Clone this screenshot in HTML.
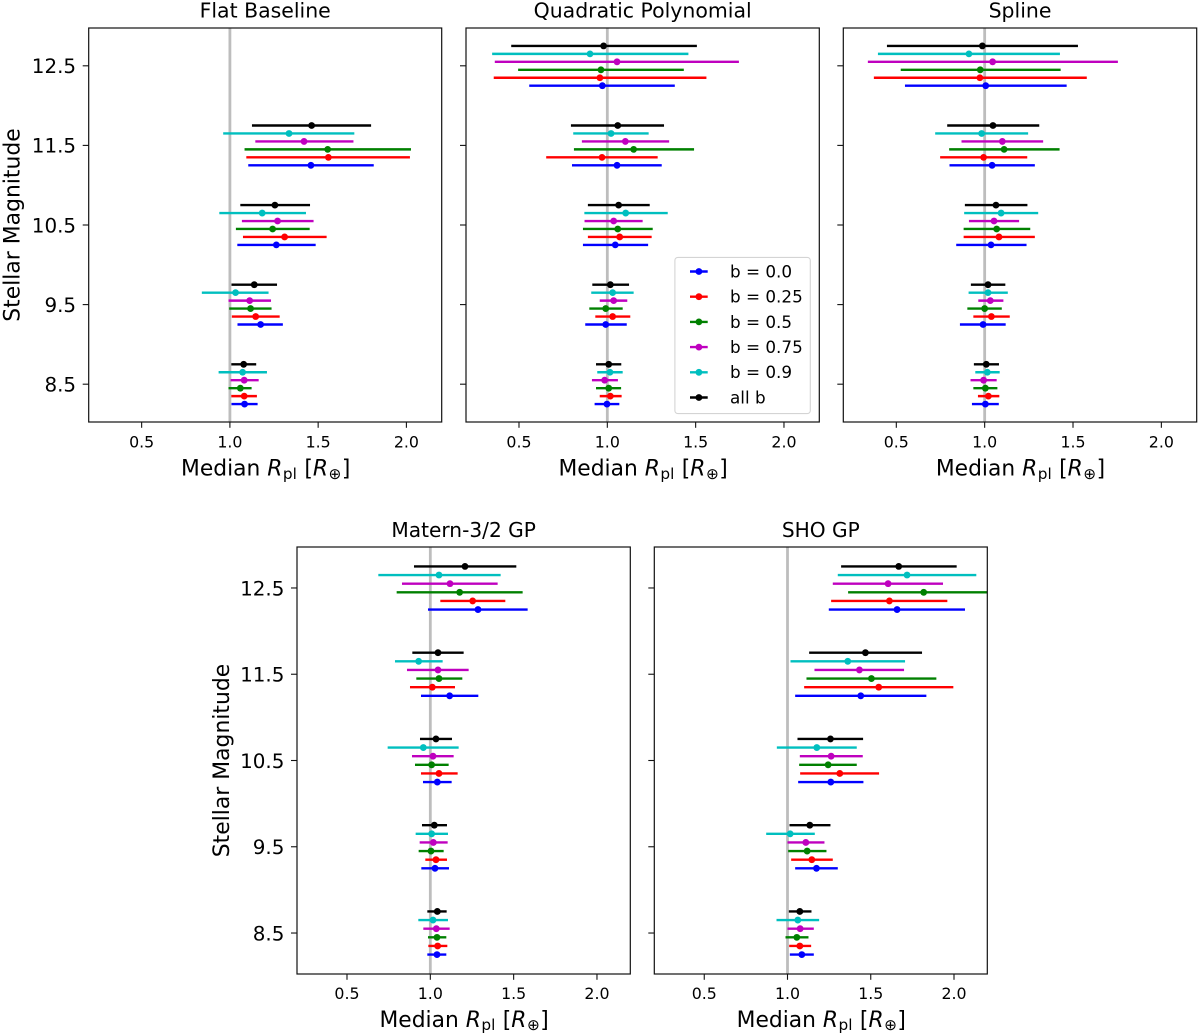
<!DOCTYPE html>
<html lang="en">
<head>
<meta charset="utf-8">
<title>Median planet radius vs stellar magnitude</title>
<style>
html,body{margin:0;padding:0;background:#fff;}
svg{display:block;}
text{font-family:"DejaVu Sans",sans-serif;fill:#000;}
</style>
</head>
<body>
<svg id="figure" xmlns="http://www.w3.org/2000/svg" width="1200" height="1036" viewBox="0 0 1200 1036"></svg>
<script>
// ---- categories, tick labels, legend ----
const magnitudeBins = [8.5, 9.5, 10.5, 11.5, 12.5];
const yTickLabels = ['8.5', '9.5', '10.5', '11.5', '12.5'];
const xTickLabels = ['0.5', '1.0', '1.5', '2.0'];
const seriesLabels = ['b = 0.0', 'b = 0.25', 'b = 0.5', 'b = 0.75', 'b = 0.9', 'all b'];
const seriesKeys = ['b-0', 'b-025', 'b-05', 'b-075', 'b-09', 'all-b'];
const seriesColors = ['#0000ff', '#ff0000', '#008000', '#bf00bf', '#00bfbf', '#000000'];
const seriesMagnitudeOffsets = [-0.25, -0.15, -0.05, 0.05, 0.15, 0.25];
const panelTitles = ['Flat Baseline', 'Quadratic Polynomial', 'Spline', 'Matern-3/2 GP', 'SHO GP'];

// ---- values: one row per series, one column per magnitude bin ----
const flatLow = [
  [1.009, 1.043, 1.042, 1.104, null],
  [1.008, 1.011, 1.074, 1.093, null],
  [0.992, 0.996, 1.034, 1.083, null],
  [1.004, 0.992, 1.068, 1.144, null],
  [0.936, 0.841, 0.94, 0.962, null],
  [1.008, 1.009, 1.059, 1.125, null]
];
const flatMedian = [
  [1.083, 1.174, 1.263, 1.459, null],
  [1.081, 1.146, 1.31, 1.558, null],
  [1.059, 1.117, 1.242, 1.554, null],
  [1.081, 1.112, 1.27, 1.42, null],
  [1.072, 1.032, 1.183, 1.335, null],
  [1.078, 1.138, 1.255, 1.463, null]
];
const flatHigh = [
  [1.157, 1.30, 1.486, 1.815, null],
  [1.153, 1.282, 1.548, 2.02, null],
  [1.123, 1.236, 1.452, 2.026, null],
  [1.163, 1.233, 1.474, 1.70, null],
  [1.21, 1.219, 1.431, 1.705, null],
  [1.149, 1.267, 1.454, 1.80, null]
];
const quadLow = [
  [0.928, 0.875, 0.862, 0.80, 0.558],
  [0.957, 0.932, 0.89, 0.654, 0.357],
  [0.936, 0.898, 0.862, 0.811, 0.495],
  [0.913, 0.957, 0.871, 0.856, 0.363],
  [0.943, 0.909, 0.87, 0.807, 0.348],
  [0.936, 0.915, 0.89, 0.794, 0.456]
];
const quadMedian = [
  [0.998, 0.991, 1.045, 1.055, 0.972],
  [1.017, 1.03, 1.07, 0.97, 0.958],
  [1.008, 0.991, 1.059, 1.149, 0.964],
  [0.985, 1.036, 1.036, 1.102, 1.055],
  [1.015, 1.03, 1.104, 1.021, 0.902],
  [1.008, 1.017, 1.064, 1.059, 0.979]
];
const quadHigh = [
  [1.068, 1.11, 1.231, 1.308, 1.382],
  [1.081, 1.13, 1.251, 1.285, 1.561],
  [1.078, 1.087, 1.257, 1.491, 1.433],
  [1.06, 1.113, 1.2, 1.35, 1.745],
  [1.087, 1.149, 1.342, 1.234, 1.459],
  [1.079, 1.123, 1.24, 1.321, 1.507]
];
const splineLow = [
  [0.928, 0.86, 0.839, 0.801, 0.549],
  [0.962, 0.936, 0.881, 0.748, 0.373],
  [0.936, 0.902, 0.881, 0.799, 0.525],
  [0.92, 0.964, 0.911, 0.869, 0.339],
  [0.947, 0.909, 0.884, 0.72, 0.396],
  [0.939, 0.922, 0.888, 0.788, 0.447]
];
const splineMedian = [
  [1.004, 0.991, 1.036, 1.042, 1.006],
  [1.021, 1.038, 1.081, 0.994, 0.973],
  [1.004, 1.0, 1.068, 1.11, 0.975],
  [0.994, 1.032, 1.053, 1.1, 1.045],
  [1.015, 1.019, 1.093, 0.983, 0.911],
  [1.009, 1.019, 1.064, 1.047, 0.987]
];
const splineHigh = [
  [1.08, 1.119, 1.237, 1.284, 1.464],
  [1.083, 1.142, 1.284, 1.241, 1.578],
  [1.072, 1.097, 1.258, 1.424, 1.43],
  [1.068, 1.106, 1.195, 1.331, 1.754],
  [1.085, 1.131, 1.303, 1.246, 1.426],
  [1.081, 1.117, 1.242, 1.309, 1.528]
];
const maternLow = [
  [0.982, 0.946, 0.956, 0.944, 0.986],
  [0.988, 0.97, 0.944, 0.878, 1.06],
  [0.986, 0.93, 0.908, 0.916, 0.798],
  [0.958, 0.936, 0.89, 0.86, 0.83],
  [0.928, 0.912, 0.744, 0.788, 0.688],
  [0.982, 0.95, 0.938, 0.892, 0.902]
];
const maternMedian = [
  [1.04, 1.028, 1.042, 1.116, 1.286],
  [1.044, 1.034, 1.052, 1.012, 1.254],
  [1.04, 1.004, 1.008, 1.052, 1.176],
  [1.036, 1.018, 1.016, 1.046, 1.118],
  [1.016, 1.008, 0.958, 0.93, 1.052],
  [1.042, 1.024, 1.034, 1.046, 1.208]
];
const maternHigh = [
  [1.096, 1.112, 1.128, 1.288, 1.584],
  [1.102, 1.1, 1.164, 1.148, 1.45],
  [1.096, 1.08, 1.11, 1.192, 1.554],
  [1.116, 1.104, 1.14, 1.23, 1.404],
  [1.106, 1.106, 1.17, 1.074, 1.422],
  [1.098, 1.1, 1.13, 1.2, 1.516]
];
const shoLow = [
  [1.014, 1.046, 1.064, 1.046, 1.248],
  [1.01, 1.022, 1.076, 1.10, 1.262],
  [0.988, 1.004, 1.07, 1.114, 1.364],
  [1.0, 1.0, 1.074, 1.162, 1.272],
  [0.934, 0.872, 0.936, 1.018, 1.302],
  [1.008, 1.012, 1.06, 1.13, 1.322]
];
const shoMedian = [
  [1.086, 1.174, 1.26, 1.44, 1.658],
  [1.074, 1.146, 1.314, 1.548, 1.612],
  [1.056, 1.118, 1.244, 1.504, 1.818],
  [1.076, 1.11, 1.262, 1.432, 1.604],
  [1.062, 1.016, 1.176, 1.362, 1.718],
  [1.074, 1.134, 1.258, 1.468, 1.668]
];
const shoHigh = [
  [1.158, 1.302, 1.456, 1.834, 2.066],
  [1.142, 1.272, 1.55, 1.996, 1.96],
  [1.126, 1.234, 1.416, 1.894, 2.27],
  [1.158, 1.222, 1.452, 1.70, 1.934],
  [1.19, 1.164, 1.416, 1.706, 2.134],
  [1.144, 1.258, 1.454, 1.808, 2.016]
];

const allLow = [flatLow, quadLow, splineLow, maternLow, shoLow];
const allMedian = [flatMedian, quadMedian, splineMedian, maternMedian, shoMedian];
const allHigh = [flatHigh, quadHigh, splineHigh, maternHigh, shoHigh];

// ---- layout (not data) ----
const frames = [
  {left: 88.7, right: 441.7, top: 28, bottom: 422, ylabels: true, ylabelX: 19.3, titleY: 17.5, titleSize: 20.45, tickY: 447.5, labelY: 475.7},
  {left: 466, right: 819.3, top: 28, bottom: 422, ylabels: false, titleY: 17.5, titleSize: 20.45, tickY: 447.5, labelY: 475.7},
  {left: 843.3, right: 1196.7, top: 28, bottom: 422, ylabels: false, titleY: 17.5, titleSize: 20.45, tickY: 447.5, labelY: 475.7},
  {left: 297, right: 630.3, top: 547, bottom: 974, ylabels: true, ylabelX: 229, titleY: 537, titleSize: 20.15, tickY: 999, labelY: 1027},
  {left: 654.3, right: 987.3, top: 547, bottom: 974, ylabels: false, titleY: 537, titleSize: 20.15, tickY: 999, labelY: 1027}
];
const xLimits = [0.2, 2.2];
const yLimits = [8.025, 12.975];

const NS = 'http://www.w3.org/2000/svg';
const root = document.getElementById('figure');

function make(tag, attrs, parent) {
  const node = document.createElementNS(NS, tag);
  for (const k in attrs) node.setAttribute(k, attrs[k]);
  parent.appendChild(node);
  return node;
}
function xAxis(frame) {
  return v => frame.left + (v - xLimits[0]) / (xLimits[1] - xLimits[0]) * (frame.right - frame.left);
}
function yAxis(frame) {
  return m => frame.bottom - (m - yLimits[0]) / (yLimits[1] - yLimits[0]) * (frame.bottom - frame.top);
}
function radiusLabel(parent, x, y) {
  const t = make('text', {x: x, y: y, 'text-anchor': 'middle', 'font-size': 21.8}, parent);
  
  
  const pieces = [
    ['Median ', 0, 0, 'normal', 21.8],
    ['R', 0, 0, 'italic', 21.8],
    ['pl', 3.2, 0.5, 'normal', 15.3],
    [' [', -3.2, 0.5, 'normal', 21.8],
    ['R', 0, 0, 'italic', 21.8],
    ['\u2295', 3.2, 0.5, 'normal', 15.3],
    [']', -3.2, 0.5, 'normal', 21.8]
  ];
  pieces.forEach(p => {
    const s = make('tspan', {dy: p[1], dx: p[2], 'font-style': p[3], 'font-size': p[4]}, t);
    s.textContent = p[0];
  });
  return t;
}

// ---- panels ----
frames.forEach((frame, p) => {
  const x = xAxis(frame);
  const y = yAxis(frame);
  const panel = make('g', {}, root);
  
  

  const clip = make('clipPath', {id: 'clip-' + p}, panel);
  make('rect', {x: frame.left, y: frame.top, width: frame.right - frame.left, height: frame.bottom - frame.top}, clip);

  const plot = make('g', {'clip-path': 'url(#clip-' + p + ')'}, panel);
  
  

  const ref = make('line', {x1: x(1), x2: x(1), y1: frame.top, y2: frame.bottom, stroke: '#bdbdbd', 'stroke-width': 2.8}, plot);
  
  

  seriesLabels.forEach((label, s) => {
    magnitudeBins.forEach((mag, b) => {
      const lo = allLow[p][s][b];
      const med = allMedian[p][s][b];
      const hi = allHigh[p][s][b];
      if (med === null) return;
      const yy = y(mag + seriesMagnitudeOffsets[s]);
      const bar = make('line', {x1: x(lo), x2: x(hi), y1: yy, y2: yy, stroke: seriesColors[s], 'stroke-width': 2.4}, plot);
      
      
      const dot = make('circle', {cx: x(med), cy: yy, r: 3.4, fill: seriesColors[s]}, plot);
      
      
    });
  });

  xTickLabels.forEach(lbl => {
    const v = parseFloat(lbl);
    const tick = make('line', {x1: x(v), x2: x(v), y1: frame.bottom, y2: frame.bottom + 5.8, stroke: '#111', 'stroke-width': 1.1}, panel);
    
    
    const t = make('text', {x: x(v), y: frame.tickY, 'text-anchor': 'middle', 'font-size': 15.8}, panel);
    
    
    t.textContent = lbl;
  });

  yTickLabels.forEach(lbl => {
    const v = parseFloat(lbl);
    const tick = make('line', {x1: frame.left - 6, x2: frame.left, y1: y(v), y2: y(v), stroke: '#111', 'stroke-width': 1.1}, panel);
    
    
    if (frame.ylabels) {
      const t = make('text', {x: frame.left - 12.6, y: y(v) + 7.3, 'text-anchor': 'end', 'font-size': 19.9}, panel);
      
      
      t.textContent = lbl;
    }
  });

  const border = make('rect', {x: frame.left, y: frame.top, width: frame.right - frame.left, height: frame.bottom - frame.top, fill: 'none', stroke: '#111', 'stroke-width': 1.2}, panel);
  
  

  const title = make('text', {x: (frame.left + frame.right) / 2, y: frame.titleY, 'text-anchor': 'middle', 'font-size': frame.titleSize}, panel);
  
  
  title.textContent = panelTitles[p];

  radiusLabel(panel, (frame.left + frame.right) / 2 + 0.5, frame.labelY);

  if (frame.ylabels) {
    const cx = frame.ylabelX;
    const cy = (frame.top + frame.bottom) / 2;
    const yt = make('text', {x: cx, y: cy, 'text-anchor': 'middle', 'font-size': 21.9, transform: 'rotate(-90 ' + cx + ' ' + cy + ')'}, panel);
    
    
    yt.textContent = 'Stellar Magnitude';
  }
});

// ---- legend (inside Quadratic Polynomial panel) ----
const legend = make('g', {}, root);


const legendBox = make('rect', {x: 674.9, y: 257.4, width: 135.4, height: 156.2, rx: 3, ry: 3, fill: '#fff', 'fill-opacity': 0.85, stroke: '#d4d4d4', 'stroke-width': 1.1}, legend);


seriesLabels.forEach((label, s) => {
  const cy = 271.5 + s * 25.2;
  const entry = make('g', {}, legend);
  
  
  make('line', {x1: 690, x2: 707.7, y1: cy, y2: cy, stroke: seriesColors[s], 'stroke-width': 2.4}, entry);
  make('circle', {cx: 698.9, cy: cy, r: 3.4, fill: seriesColors[s]}, entry);
  const t = make('text', {x: 730, y: cy + 5.9, 'font-size': 16.8}, entry);
  t.textContent = label;
});
</script>
</body>
</html>
